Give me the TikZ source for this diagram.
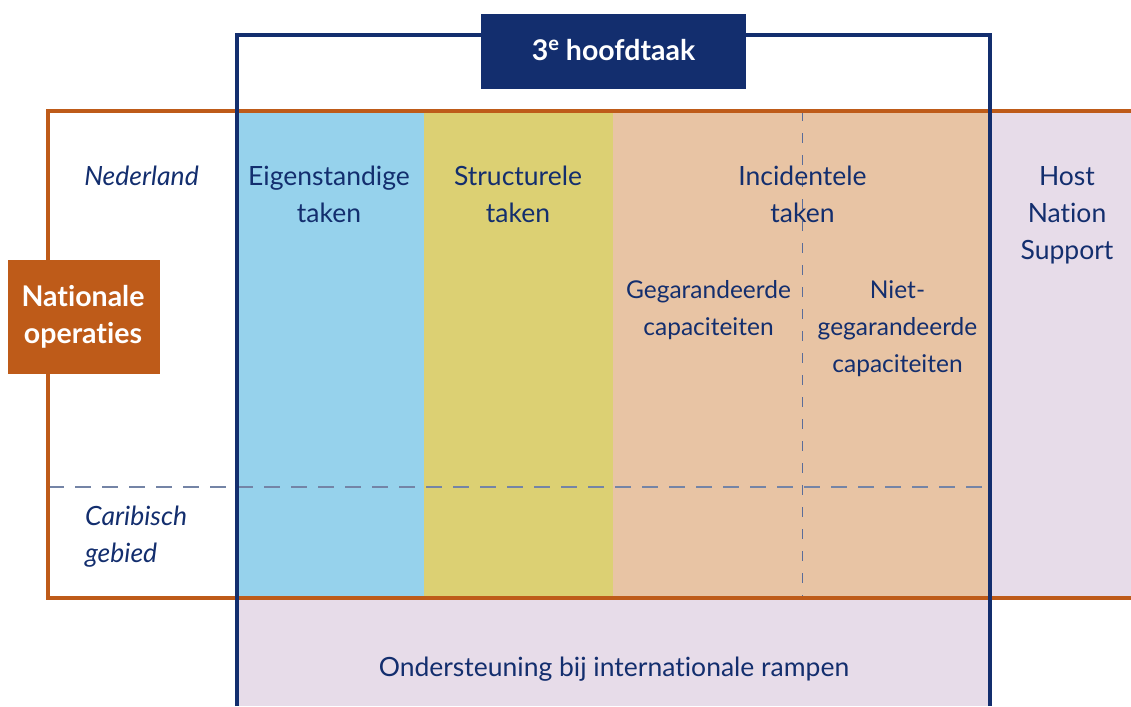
\documentclass[tikz,border=0pt]{standalone}
\usepackage{fontspec}
\setmainfont[Ligatures=NoCommon]{Lato}
\usepackage{tikz}
\usetikzlibrary{backgrounds,calc}
\definecolor{navy}{HTML}{132E6E}
\definecolor{oranje}{HTML}{BE5B19}
\definecolor{lichtblauw}{HTML}{96D2EC}
\definecolor{geel}{HTML}{DCD073}
\definecolor{perzik}{HTML}{E8C4A4}
\definecolor{lila}{HTML}{E7DCE9}
\definecolor{streep}{HTML}{7484A6}

\begin{document}
\begin{tikzpicture}[x=1pt,y=-1pt,
  lbl/.style={text=navy,align=center,anchor=base,inner sep=0pt,font=\fontsize{26.5}{37}\selectfont},
  klein/.style={lbl,font=\fontsize{24.5}{37}\selectfont},
  schuin/.style={lbl,font=\fontsize{26.5}{36.7}\selectfont\itshape},
  wit/.style={text=white,align=center,anchor=base,inner sep=0pt,font=\fontsize{28.5}{36.5}\selectfont\bfseries}]
\useasboundingbox (0,0) rectangle (1131,706);
% vlakken
\fill[lichtblauw] (237,111) rectangle (424,598);
\fill[geel] (424,111) rectangle (613,598);
\fill[perzik] (613,111) rectangle (990,598);
\fill[lila] (990,111) rectangle (1131,598);
\fill[lila] (237,598) rectangle (990,706);
% stippellijnen
\draw[streep, line width=1.3pt, dash pattern=on 16pt off 11pt] (48,487) -- (990,487);
\draw[navy!70, line width=1.3pt, dash pattern=on 10pt off 12pt] (802.5,111) -- (802.5,598);
% kaders
\draw[oranje, line width=3.5pt] (1131,111) -- (48,111) -- (48,598) -- (1131,598);
\draw[navy, line width=3.8pt] (237,706) -- (237,35) -- (990,35) -- (990,706);
\fill[navy] (481,14) rectangle (746,89);
\fill[oranje] (8,260) rectangle (160,374);
% teksten (anker = basislijn van de laatste regel)
\node[wit] (hoofd) at (613.5,61) {3\raisebox{0.36em}{\fontsize{20}{20}\selectfont e} hoofdtaak};
\node[wit] (nat) at (83,343) {Nationale\\operaties};
\node[schuin] (ned) at (141.5,185) {Nederland};
\node[schuin, align=left, anchor=base west] (car) at (85,562) {Caribisch\\gebied};
\node[lbl] (eigen) at (329,222) {Eigenstandige\\taken};
\node[lbl] (struc) at (518,222) {Structurele\\taken};
\node[lbl] (incid) at (802.5,222) {Incidentele\\taken};
\node[lbl] (hns) at (1067,259) {Host\\Nation\\Support};
\node[klein] (gega) at (708.5,335) {Gegarandeerde\\capaciteiten};
\node[klein] (niet) at (897.5,372) {Niet-\\gegarandeerde\\capaciteiten};
\node[lbl] (ramp) at (614,676) {Ondersteuning bij internationale rampen};
\end{tikzpicture}
\end{document}
